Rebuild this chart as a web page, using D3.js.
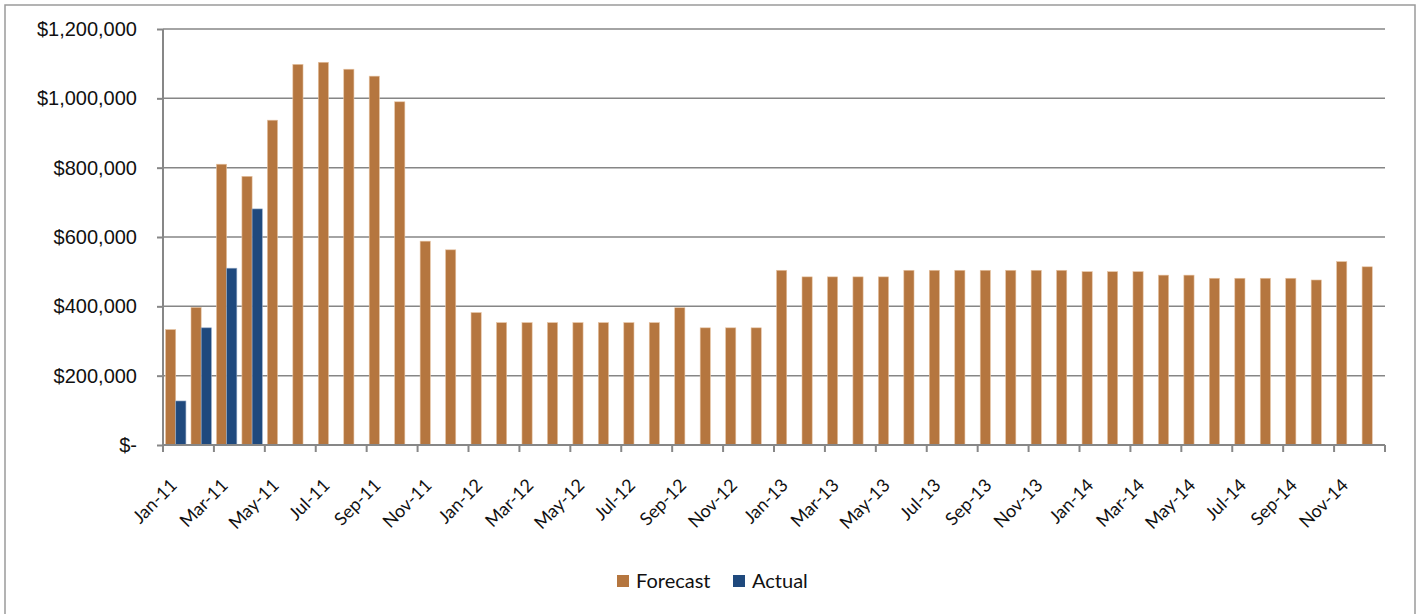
<!DOCTYPE html>
<html>
<head>
<meta charset="utf-8">
<script src="https://cdn.jsdelivr.net/npm/d3@7"></script>
<style>
  body { margin: 0; background: #fff; }
  svg { display: block; font-family: Lato, "Open Sans", sans-serif; }
  .grid line { stroke: #868686; stroke-width: 1.5; }
  .axis path, .axis line { stroke: #878787; stroke-width: 2; }
  .axis text { fill: #111; }
</style>
</head>
<body>
<svg id="chart" width="1421" height="614"></svg>
<script>
const months = [
  "Jan-11","Feb-11","Mar-11","Apr-11","May-11","Jun-11","Jul-11","Aug-11","Sep-11","Oct-11","Nov-11","Dec-11",
  "Jan-12","Feb-12","Mar-12","Apr-12","May-12","Jun-12","Jul-12","Aug-12","Sep-12","Oct-12","Nov-12","Dec-12",
  "Jan-13","Feb-13","Mar-13","Apr-13","May-13","Jun-13","Jul-13","Aug-13","Sep-13","Oct-13","Nov-13","Dec-13",
  "Jan-14","Feb-14","Mar-14","Apr-14","May-14","Jun-14","Jul-14","Aug-14","Sep-14","Oct-14","Nov-14","Dec-14"
];

const forecast = [
  333000, 397000, 810000, 775000, 937000, 1098000, 1104000, 1084000, 1064000, 990000, 588000, 563000,
  382000, 353000, 353000, 353000, 353000, 353000, 353000, 353000, 396000, 338000, 338000, 338000,
  504000, 485000, 485000, 485000, 485000, 504000, 504000, 504000, 504000, 504000, 504000, 504000,
  500000, 500000, 500000, 490000, 490000, 481000, 481000, 481000, 481000, 476000, 529000, 514000
];

const actual = [127000, 338000, 510000, 681000];

const seriesNames = ["Forecast", "Actual"];
const seriesColors = { Forecast: "#b5763f", Actual: "#1f497d" };
const yTicks = [0, 200000, 400000, 600000, 800000, 1000000, 1200000];

const width = 1421, height = 614;
const margin = { top: 29, right: 36, bottom: 169, left: 163 };

const svg = d3.select("#chart");

// outer chart frame
svg.append("rect")
  .attr("x", 5).attr("y", 5)
  .attr("width", 1410).attr("height", 620)
  .attr("fill", "none")
  .attr("stroke", "#9a9a9a")
  .attr("stroke-width", 1.5);

const x = d3.scaleBand()
  .domain(months)
  .range([margin.left, width - margin.right])
  .paddingInner(0)
  .paddingOuter(0);

const x1 = d3.scaleBand()
  .domain(seriesNames)
  .range([0, x.bandwidth()])
  .paddingInner(0)
  .paddingOuter(0.25);

const y = d3.scaleLinear()
  .domain([0, 1200000])
  .range([height - margin.bottom, margin.top]);

// gridlines
svg.append("g")
  .attr("class", "grid")
  .selectAll("line")
  .data(yTicks.slice(1))
  .join("line")
  .attr("x1", margin.left)
  .attr("x2", width - margin.right)
  .attr("y1", (d) => y(d))
  .attr("y2", (d) => y(d));

const rows = months.map((m, i) => ({
  month: m,
  values: [
    { key: "Forecast", value: forecast[i] },
    { key: "Actual", value: i < actual.length ? actual[i] : null },
  ],
}));

svg.append("g")
  .selectAll("g")
  .data(rows)
  .join("g")
  .attr("transform", (d) => `translate(${x(d.month)},0)`)
  .selectAll("rect")
  .data((d) => d.values.filter((v) => v.value != null))
  .join("rect")
  .attr("x", (d) => x1(d.key))
  .attr("width", x1.bandwidth())
  .attr("y", (d) => y(d.value))
  .attr("height", (d) => y(0) - y(d.value))
  .attr("fill", (d) => seriesColors[d.key])
  .attr("stroke", (d) => (d.key === "Forecast" ? "#e7c3a2" : "#8fa6c4"))
  .attr("stroke-width", 0.6);

// y axis
const yAxis = d3.axisLeft(y)
  .tickValues(yTicks)
  .tickSize(6)
  .tickPadding(20)
  .tickFormat((d) => (d === 0 ? "$-" : "$" + d3.format(",")(d)));

svg.append("g")
  .attr("class", "axis")
  .attr("transform", `translate(${margin.left},0)`)
  .call(yAxis)
  .call((g) => g.select(".domain").attr("d", `M0,${y(1200000)}V${y(0)}`))
  .selectAll("text")
  .style("font-size", "20px");

// x axis: ticks on every second category boundary, labels on every second month
const tickIdx = d3.range(0, months.length + 1, 2);
const xAxisG = svg.append("g")
  .attr("class", "axis")
  .attr("transform", `translate(0,${y(0)})`);

xAxisG.append("path")
  .attr("d", `M${margin.left},0H${width - margin.right}`);

xAxisG.selectAll("line")
  .data(tickIdx)
  .join("line")
  .attr("x1", (i) => margin.left + i * x.step())
  .attr("x2", (i) => margin.left + i * x.step())
  .attr("y1", 0)
  .attr("y2", 7);

xAxisG.selectAll("text")
  .data(months.filter((m, i) => i % 2 === 0))
  .join("text")
  .attr("text-anchor", "end")
  .attr("transform", (d) => `translate(${x(d) + x.bandwidth() / 2 - 2},${37}) rotate(-45)`)
  .attr("dy", "0.35em")
  .style("font-size", "18px")
  .text((d) => d);

// legend
const legend = svg.append("g").attr("transform", "translate(617,581)");
const legendItems = [
  { key: "Forecast", dx: 0 },
  { key: "Actual", dx: 116 },
];
const li = legend.selectAll("g")
  .data(legendItems)
  .join("g")
  .attr("transform", (d) => `translate(${d.dx},0)`);

li.append("rect")
  .attr("x", 0).attr("y", -6)
  .attr("width", 12).attr("height", 12)
  .attr("fill", (d) => seriesColors[d.key]);

li.append("text")
  .attr("x", 19)
  .attr("dy", "0.35em")
  .style("font-size", "20px")
  .attr("fill", "#111")
  .text((d) => d.key);
</script>
</body>
</html>
